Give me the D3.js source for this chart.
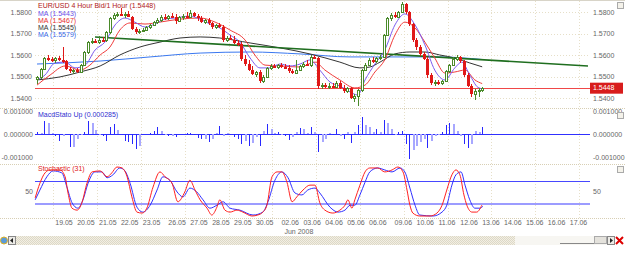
<!DOCTYPE html>
<html><head><meta charset="utf-8">
<script src="https://cdn.jsdelivr.net/npm/d3@7"></script>
<style>body{margin:0;background:#fff;overflow:hidden}text{font-family:"Liberation Sans",Arial,sans-serif}</style>
</head><body><svg id="c" width="625" height="256"></svg>
<script>
// ---------- DATA ----------
// 4-hour bars: [open, high, low, close]
const ohlc = [
[1.5490,1.5502,1.5465,1.5496],[1.5496,1.5540,1.5490,1.5535],[1.5535,1.5590,1.5530,1.5585],[1.5585,1.5598,1.5570,1.5580],
[1.5580,1.5592,1.5568,1.5575],[1.5575,1.5590,1.5565,1.5585],[1.5585,1.5595,1.5572,1.5578],[1.5578,1.5635,1.5565,1.5570],
[1.5570,1.5578,1.5530,1.5535],[1.5535,1.5545,1.5515,1.5525],[1.5525,1.5535,1.5512,1.5530],[1.5530,1.5540,1.5518,1.5522],
[1.5522,1.5560,1.5518,1.5555],[1.5555,1.5620,1.5550,1.5615],[1.5615,1.5665,1.5605,1.5660],[1.5660,1.5680,1.5650,1.5665],
[1.5665,1.5675,1.5655,1.5660],[1.5660,1.5690,1.5652,1.5670],[1.5670,1.5685,1.5660,1.5668],[1.5668,1.5712,1.5662,1.5705],
[1.5705,1.5775,1.5700,1.5770],[1.5770,1.5795,1.5765,1.5785],[1.5785,1.5800,1.5775,1.5790],[1.5790,1.5818,1.5780,1.5785],
[1.5785,1.5800,1.5770,1.5792],[1.5792,1.5805,1.5775,1.5778],[1.5778,1.5782,1.5715,1.5720],[1.5720,1.5730,1.5700,1.5708],
[1.5708,1.5720,1.5698,1.5712],[1.5712,1.5725,1.5705,1.5718],[1.5718,1.5735,1.5710,1.5730],[1.5730,1.5745,1.5722,1.5740],
[1.5740,1.5760,1.5735,1.5755],[1.5755,1.5770,1.5745,1.5765],[1.5765,1.5785,1.5755,1.5778],[1.5778,1.5790,1.5765,1.5772],
[1.5772,1.5785,1.5762,1.5780],[1.5780,1.5795,1.5770,1.5775],[1.5775,1.5790,1.5745,1.5760],[1.5760,1.5780,1.5755,1.5775],
[1.5775,1.5790,1.5765,1.5782],[1.5782,1.5798,1.5772,1.5778],[1.5778,1.5808,1.5772,1.5795],[1.5795,1.5802,1.5775,1.5780],
[1.5780,1.5790,1.5760,1.5770],[1.5770,1.5782,1.5748,1.5755],[1.5755,1.5768,1.5745,1.5762],[1.5762,1.5770,1.5740,1.5748],
[1.5748,1.5755,1.5722,1.5728],[1.5728,1.5745,1.5720,1.5738],[1.5738,1.5750,1.5725,1.5730],[1.5730,1.5740,1.5660,1.5668],
[1.5668,1.5690,1.5660,1.5680],[1.5680,1.5695,1.5668,1.5672],[1.5672,1.5688,1.5650,1.5658],[1.5658,1.5668,1.5640,1.5650],
[1.5650,1.5660,1.5570,1.5580],[1.5580,1.5600,1.5548,1.5560],[1.5560,1.5575,1.5525,1.5530],[1.5530,1.5548,1.5505,1.5512],
[1.5512,1.5525,1.5498,1.5520],[1.5520,1.5528,1.5470,1.5478],[1.5478,1.5505,1.5470,1.5500],[1.5500,1.5545,1.5495,1.5540],
[1.5540,1.5560,1.5530,1.5548],[1.5548,1.5560,1.5538,1.5545],[1.5545,1.5558,1.5535,1.5552],[1.5552,1.5562,1.5540,1.5545],
[1.5545,1.5558,1.5535,1.5540],[1.5540,1.5552,1.5518,1.5525],[1.5525,1.5535,1.5510,1.5518],[1.5518,1.5578,1.5512,1.5530],
[1.5530,1.5555,1.5525,1.5550],[1.5550,1.5568,1.5540,1.5560],[1.5560,1.5575,1.5548,1.5552],[1.5552,1.5598,1.5545,1.5592],
[1.5592,1.5600,1.5580,1.5585],[1.5585,1.5590,1.5440,1.5455],[1.5455,1.5470,1.5440,1.5462],[1.5462,1.5472,1.5445,1.5450],
[1.5450,1.5468,1.5440,1.5458],[1.5458,1.5470,1.5445,1.5450],[1.5450,1.5478,1.5445,1.5470],[1.5470,1.5480,1.5440,1.5448],
[1.5448,1.5460,1.5425,1.5432],[1.5432,1.5450,1.5425,1.5445],[1.5445,1.5452,1.5395,1.5400],[1.5400,1.5420,1.5380,1.5410],
[1.5410,1.5440,1.5365,1.5435],[1.5435,1.5535,1.5430,1.5530],[1.5530,1.5562,1.5525,1.5555],[1.5555,1.5585,1.5548,1.5578],
[1.5578,1.5590,1.5565,1.5572],[1.5572,1.5592,1.5565,1.5588],[1.5588,1.5598,1.5575,1.5590],[1.5590,1.5700,1.5585,1.5695],
[1.5695,1.5775,1.5690,1.5770],[1.5770,1.5795,1.5760,1.5788],[1.5788,1.5800,1.5770,1.5775],[1.5775,1.5805,1.5770,1.5800],
[1.5800,1.5848,1.5795,1.5835],[1.5835,1.5842,1.5790,1.5798],[1.5798,1.5805,1.5735,1.5742],[1.5742,1.5750,1.5660,1.5668],
[1.5668,1.5680,1.5625,1.5635],[1.5635,1.5645,1.5595,1.5605],[1.5605,1.5615,1.5575,1.5582],[1.5582,1.5590,1.5495,1.5505],
[1.5505,1.5515,1.5460,1.5470],[1.5470,1.5485,1.5455,1.5475],[1.5475,1.5485,1.5462,1.5470],[1.5470,1.5485,1.5460,1.5480],
[1.5480,1.5530,1.5475,1.5525],[1.5525,1.5560,1.5515,1.5555],[1.5555,1.5590,1.5548,1.5582],[1.5582,1.5598,1.5572,1.5590],
[1.5590,1.5595,1.5565,1.5572],[1.5572,1.5578,1.5500,1.5508],[1.5508,1.5515,1.5450,1.5458],[1.5458,1.5465,1.5405,1.5420],
[1.5420,1.5440,1.5392,1.5432],[1.5432,1.5445,1.5405,1.5438],[1.5438,1.5452,1.5430,1.5448]
];
// moving averages: [bar, price]
const maPurple = [[0,1.5484],[2.2,1.5507],[4.9,1.5563],[7.7,1.5567],[10.4,1.5540],[13.2,1.5553],[15.9,1.5623],[18.6,1.5660],[21.4,1.5740],[24.1,1.5772],[26.8,1.5753],[29.6,1.5730],[32.3,1.5744],[35.1,1.5767],[37.8,1.5772],[41.9,1.5781],[44.7,1.5767],[47.4,1.5744],[50.1,1.5726],[52.9,1.5693],[55.6,1.5660],[58.4,1.5586],[61.1,1.5540],[63.8,1.5540],[66.6,1.5558],[69.3,1.5549],[72.1,1.5558],[74.8,1.5577],[77.5,1.5530],[80.3,1.5474],[83,1.5456],[85.8,1.5428],[87.9,1.5414],[89.9,1.5484],[92.6,1.5558],[95.3,1.5623],[98.1,1.5740],[100.8,1.5791],[103.6,1.5740],[106.3,1.5647],[109,1.5530],[111.8,1.5484],[114.5,1.5540],[116.4,1.5567],[118.6,1.5507],[120.8,1.5450],[122,1.5443]];
const maRed = [[0,1.5460],[3.6,1.5507],[7.7,1.5549],[11.8,1.5530],[14.5,1.5553],[17.3,1.5600],[20,1.5637],[22.7,1.5716],[25.5,1.5749],[29.6,1.5744],[33.7,1.5753],[39.2,1.5767],[44.7,1.5772],[48.8,1.5753],[52.9,1.5716],[57,1.5670],[59.7,1.5600],[62.5,1.5553],[66.6,1.5549],[72.1,1.5544],[76.2,1.5567],[78.9,1.5530],[83,1.5484],[87.1,1.5447],[89.9,1.5460],[92.6,1.5521],[95.3,1.5577],[98.1,1.5693],[100.8,1.5753],[103.6,1.5726],[106.3,1.5660],[109,1.5586],[111.8,1.5516],[114.5,1.5521],[117.3,1.5530],[120,1.5484],[122,1.5467]];
const maBlack = [[0,1.5484],[6.3,1.5498],[11.8,1.5521],[17.3,1.5549],[22.7,1.5600],[28.2,1.5637],[33.7,1.5660],[39.2,1.5679],[44.7,1.5684],[50.1,1.5679],[58.4,1.5656],[66.6,1.5633],[74.8,1.5605],[83,1.5567],[88.5,1.5540],[91.2,1.5544],[94,1.5567],[98.1,1.5605],[102.2,1.5614],[106.3,1.5614],[110.4,1.5600],[114.5,1.5586],[118.6,1.5563],[122,1.5545]];
const maBlue = [[0,1.5558],[17.3,1.5572],[31,1.5591],[44.7,1.5609],[58.4,1.5614],[72.1,1.5605],[85.8,1.5591],[99.5,1.5591],[110.4,1.5591],[122,1.5579]];
const trendLine = [[15.9,1.5684],[151,1.5549]];
const lastPrice = 1.5448;
const maValues = ["1.5443","1.5467","1.5545","1.5579"];
// MACD histogram (one value per bar)
const macd = [0.00010,0.00003,0.00055,0.00050,0.00005,-0.00007,-0.00030,-0.00010,0,-0.00057,-0.00055,-0.00020,-0.00005,0.00008,0.00057,0.00050,0.00017,-0.00005,-0.00010,-0.00030,
0.00031,0.00043,0.00017,0.00002,-0.00030,-0.00035,-0.00045,-0.00064,-0.00050,0.00002,0,0.00005,0.00011,0.00029,0.00011,-0.00005,-0.00008,-0.00007,-0.00012,0,
0.00002,0.00003,0.00004,-0.00005,-0.00018,-0.00022,-0.00020,-0.00036,-0.00020,0.00003,0.00036,-0.00010,0.00005,-0.00005,-0.00015,-0.00020,-0.00045,-0.00030,-0.00050,-0.00040,
-0.00015,-0.00050,0.00015,0.00045,0.00020,0.00005,0.00010,-0.00005,-0.00010,-0.00025,-0.00015,0.00010,0.00025,0.00020,0.00005,0.00030,0.00010,-0.00080,-0.00035,-0.00020,
0.00005,-0.00005,0.00020,-0.00010,-0.00020,0.00008,-0.00040,0.00010,0.00040,0.00075,0.00040,0.00030,0.00010,0.00020,0.00010,0.00060,0.00050,0.00020,-0.00005,0.00010,
0.00015,-0.00045,-0.00110,-0.00070,-0.00050,-0.00035,-0.00020,-0.00060,-0.00030,-0.00010,-0.00005,0.00010,0.00040,0.00050,0.00045,0.00015,-0.00010,-0.00045,-0.00060,-0.00045,
0.00015,0.00010,0.000285];
// Stochastic (31): [bar, value]
const stochMain = [[-0.5,37],[0.8,67],[2.2,88],[3.6,94],[6.3,94],[7.7,80],[8.5,47],[9.6,16],[11,12],[12.3,27],[13.7,67],[15.1,90],[17.3,92],[19.2,80],[20.5,88],[21.9,100],[23.3,98],[24.7,80],[26,39],[27.4,8],[28.8,6],[30.1,16],[31.8,59],[33.7,90],[35.1,80],[37,67],[38.6,29],[40.5,49],[41.9,73],[43.3,53],[44.7,33],[46.6,16],[47.9,2],[49.3,18],[50.1,33],[51.5,12],[52.9,8],[54.8,12],[56.4,8],[58.9,0],[60.5,2],[61.9,8],[63,22],[64.4,80],[65.8,90],[67.1,90],[68.5,69],[69.9,29],[71.2,39],[72.9,53],[74.8,63],[76.2,63],[77.5,27],[78.9,12],[81.1,6],[83,12],[84.4,22],[85.2,33],[86.3,16],[87.1,33],[88.5,63],[89.9,90],[91.2,98],[93.4,98],[95.3,90],[97.3,94],[98.9,100],[100.3,90],[101.4,53],[102.2,22],[103,6],[104.9,0],[107.7,0],[109.6,6],[111,22],[112.3,53],[113.7,84],[114.8,94],[115.9,84],[117,43],[117.8,22],[119.2,8],[120.5,8],[121.9,22]];
const stochSignal = [[-0.5,33],[0.8,53],[2.7,80],[4.4,92],[6.8,88],[8.2,59],[9.6,27],[11.2,16],[12.6,33],[14,67],[15.9,90],[17.8,90],[19.2,78],[20.8,84],[22.7,98],[24.1,92],[25.5,67],[27.4,18],[29,8],[31,22],[32.9,53],[34.5,80],[36.4,73],[38.4,49],[40,39],[41.9,57],[43.8,49],[45.5,33],[47.4,16],[49.3,22],[51,29],[52.9,16],[55.6,12],[59.2,2],[61.9,8],[63.3,29],[65.2,73],[67.1,90],[68.8,78],[70.7,47],[72.6,43],[74.2,53],[76.2,57],[77.5,47],[80.3,18],[82.5,8],[84.4,12],[85.8,22],[87.1,22],[88.5,43],[89.9,69],[91.2,90],[93.4,98],[95.3,94],[97.3,90],[99.5,98],[100.8,90],[102.2,57],[103.6,22],[104.9,2],[108.5,0],[111,8],[112.3,22],[113.7,63],[114.8,84],[116.2,90],[117.3,63],[118.6,33],[120,16],[121.4,16],[122.2,20]];
const stochLevels = [72, 25];
// axis labels
const priceTicks = [1.58,1.57,1.56,1.55,1.54];
const macdTicks = [0.001,0,-0.001];
const dayLabels = ["19.05","20.05","21.05","22.05","23.05","26.05","27.05","28.05","29.05","30.05","02.06","03.06","04.06","05.06","06.06","09.06","10.06","11.06","12.06","13.06","14.06","15.06","16.06","17.06"];
const dayBars   = [5,11,17,23,29,36,42,48,54,60,67,73,79,85,91,98,104,110,116,122,128,134,140,146];
const monthLabel = "Jun 2008";

// ---------- DRAW ----------
const svg = d3.select("#c");
const X0 = 35, X1 = 590;
const x = d3.scaleLinear().domain([0,151]).range([37,588]);
const yP = d3.scaleLinear().domain([1.54,1.58]).range([98,12]);
const yM = d3.scaleLinear().domain([-0.001,0.001]).range([157,111]);
const yS = d3.scaleLinear().domain([0,100]).range([216,167]);
const grid = "#e6dfc8";
const lblCol = "#666";
const fs = 7;

svg.append("rect").attr("width",625).attr("height",256).attr("fill","#fff");
// frame top
svg.append("line").attr("x1",0).attr("x2",625).attr("y1",0.5).attr("y2",0.5).attr("stroke","#d8d4c8");

// vertical grid
const vg = d3.range(4.5,151,12);
svg.append("g").selectAll("line").data(vg).join("line")
  .attr("x1",d=>Math.round(x(d))+0.5).attr("x2",d=>Math.round(x(d))+0.5)
  .attr("y1",1).attr("y2",218).attr("stroke",grid).attr("stroke-dasharray","1,2");
// horizontal grid
svg.append("g").selectAll("line").data(priceTicks).join("line")
  .attr("x1",X0).attr("x2",X1).attr("y1",d=>Math.round(yP(d))+0.5).attr("y2",d=>Math.round(yP(d))+0.5)
  .attr("stroke",grid).attr("stroke-dasharray","1,2");
// panel separators
[108,164,218].forEach(v=>svg.append("line").attr("x1",0).attr("x2",625).attr("y1",v+0.5).attr("y2",v+0.5)
  .attr("stroke","#d8cfb4").attr("stroke-dasharray","1,1"));

// price axis labels (both sides)
const pl = svg.append("g").attr("font-size",fs).attr("fill",lblCol);
priceTicks.forEach(p=>{
  pl.append("text").attr("x",32).attr("y",yP(p)+2.5).attr("text-anchor","end").text(p.toFixed(4));
  pl.append("text").attr("x",593).attr("y",yP(p)+2.5).text(p.toFixed(4));
});
macdTicks.forEach(m=>{
  pl.append("text").attr("x",33).attr("y",yM(m)+2.5).attr("text-anchor","end").text(m.toFixed(6));
  pl.append("text").attr("x",593).attr("y",yM(m)+2.5).text(m.toFixed(6));
});
pl.append("text").attr("x",33).attr("y",yS(50)+2.5).attr("text-anchor","end").text("50");
pl.append("text").attr("x",593).attr("y",yS(50)+2.5).text("50");
// date labels
dayLabels.forEach((d,i)=>pl.append("text").attr("x",x(dayBars[i])).attr("y",225).text(d));
pl.append("text").attr("x",x(dayBars[10])+3).attr("y",234).text(monthLabel);

// horizontal last-price line
svg.append("line").attr("x1",X0).attr("x2",X1).attr("y1",Math.round(yP(lastPrice))+0.5).attr("y2",Math.round(yP(lastPrice))+0.5)
  .attr("stroke","#f04848");

// MAs
const line = d3.line().x(d=>x(d[0])).y(d=>yP(d[1])).curve(d3.curveMonotoneX);
svg.append("path").datum(maBlue).attr("d",line).attr("fill","none").attr("stroke","#3a78f0").attr("stroke-width",1);
svg.append("path").datum(maBlack).attr("d",line).attr("fill","none").attr("stroke","#333").attr("stroke-width",1);
svg.append("path").datum(trendLine).attr("d",d3.line().x(d=>x(d[0])).y(d=>yP(d[1]))).attr("fill","none").attr("stroke","#1f6e1f").attr("stroke-width",1.6);
svg.append("path").datum(maRed).attr("d",line).attr("fill","none").attr("stroke","#f03c3c").attr("stroke-width",1);
svg.append("path").datum(maPurple).attr("d",line).attr("fill","none").attr("stroke","#7c5cf0").attr("stroke-width",1);

// candles
const cg = svg.append("g").attr("shape-rendering","crispEdges");
ohlc.forEach((d,i)=>{
  const cx = Math.round(x(i));
  const up = d[3] >= d[0];
  const col = up ? "#4a8a2a" : "#e01818";
  cg.append("line").attr("x1",cx+0.5).attr("x2",cx+0.5).attr("y1",yP(d[1])).attr("y2",yP(d[2])).attr("stroke",col);
  const top = Math.round(yP(Math.max(d[0],d[3]))), bot = Math.round(yP(Math.min(d[0],d[3])));
  if (up) {
    cg.append("rect").attr("x",cx-1+0.5).attr("y",top+0.5).attr("width",2).attr("height",Math.max(1,bot-top))
      .attr("fill","#fff").attr("stroke",col);
  } else {
    cg.append("rect").attr("x",cx-1).attr("y",top).attr("width",3).attr("height",Math.max(2,bot-top)).attr("fill",col);
  }
});

// MACD
svg.append("line").attr("x1",X0).attr("x2",X1).attr("y1",Math.round(yM(0))+0.5).attr("y2",Math.round(yM(0))+0.5).attr("stroke","#3030ff");
svg.append("g").attr("shape-rendering","crispEdges").selectAll("line").data(macd).join("line")
  .attr("x1",(d,i)=>Math.round(x(i))+0.5).attr("x2",(d,i)=>Math.round(x(i))+0.5)
  .attr("y1",yM(0)).attr("y2",d=>yM(d))
  .attr("stroke",(d,i)=> (i>0 && Math.abs(d)<Math.abs(macd[i-1])) ? "#a8a8ff" : "#2828ff")
  .attr("stroke-width",(d,i)=> (i>0 && Math.abs(d)<Math.abs(macd[i-1])) ? 2 : 1);

// Stochastic
svg.append("line").attr("x1",X0).attr("x2",X1).attr("y1",Math.round(yS(stochLevels[0]))+0.5).attr("y2",Math.round(yS(stochLevels[0]))+0.5).attr("stroke","#4848ff");
svg.append("line").attr("x1",X0).attr("x2",X1).attr("y1",Math.round(yS(stochLevels[1]))).attr("y2",Math.round(yS(stochLevels[1]))).attr("stroke","#9c9cff").attr("stroke-width",2);
const sl = d3.line().x(d=>x(d[0])).y(d=>yS(d[1])).curve(d3.curveMonotoneX);
svg.append("path").datum(stochSignal).attr("d",sl).attr("fill","none").attr("stroke","#3030ff");
svg.append("path").datum(stochMain).attr("d",sl).attr("fill","none").attr("stroke","#ff2020");

// legends
const lg = svg.append("g").attr("font-size",fs);
lg.append("text").attr("x",38).attr("y",7.5).attr("fill","#b01818").text(`EUR/USD 4 Hour Bid/1 Hour (${lastPrice.toFixed(4)})`);
const maCols = ["#6a50e8","#e83030","#333","#3a6ae8"];
maValues.forEach((v,i)=>lg.append("text").attr("x",38).attr("y",15.5+i*7.3).attr("fill",maCols[i]).text(`MA (${v})`));
lg.append("text").attr("x",38).attr("y",117).attr("fill","#3030d0").text(`MacdStato Up (${macd[macd.length-1].toFixed(6)})`);
lg.append("text").attr("x",38).attr("y",171).attr("fill","#e02020").text("Stochastic (31)");

// last price box
svg.append("rect").attr("x",590).attr("y",yP(lastPrice)-5).attr("width",33).attr("height",11).attr("fill","#d81c1c");
svg.append("text").attr("x",593).attr("y",yP(lastPrice)+2.5).attr("font-size",fs).attr("fill","#fff").text(lastPrice.toFixed(4));

// small panel buttons
[2,112,166].forEach(v=>svg.append("rect").attr("x",617.5).attr("y",v+0.5).attr("width",6).attr("height",6).attr("fill","#f4f2ea").attr("stroke","#aaa"));

// scrollbar
const pat = svg.append("defs").append("pattern").attr("id","hatch").attr("width",2).attr("height",2).attr("patternUnits","userSpaceOnUse");
pat.append("rect").attr("width",2).attr("height",2).attr("fill","#f2efe4");
pat.append("rect").attr("width",1).attr("height",1).attr("fill","#ddd8c6");
pat.append("rect").attr("x",1).attr("y",1).attr("width",1).attr("height",1).attr("fill","#ddd8c6");
svg.append("rect").attr("x",15).attr("y",236).attr("width",500).attr("height",9).attr("fill","url(#hatch)");
svg.append("rect").attr("x",515).attr("y",236).attr("width",93).attr("height",9).attr("fill","#f7f6f2");
svg.append("line").attr("x1",560).attr("x2",598).attr("y1",243.5).attr("y2",243.5).attr("stroke","#888");
svg.append("rect").attr("x",594.5).attr("y",236.5).attr("width",12).attr("height",7).attr("fill","#e4e2dc").attr("stroke","#aaa");
svg.append("rect").attr("x",607.5).attr("y",236.5).attr("width",7).attr("height",8).attr("fill","#ecebe6").attr("stroke","#888");
svg.append("path").attr("d","M610,238 L613,240.5 L610,243 Z").attr("fill","#222");
svg.append("path").attr("d","M616,237 L623,244 M623,237 L616,244").attr("stroke","#d00").attr("stroke-width",2);
svg.append("rect").attr("x",8.5).attr("y",236.5).attr("width",7).attr("height",8).attr("fill","#ecebe6").attr("stroke","#888");
svg.append("path").attr("d","M13,238 L10,240.5 L13,243 Z").attr("fill","#222");
svg.append("circle").attr("cx",4).attr("cy",240.5).attr("r",3.5).attr("fill","#5b9bd8").attr("stroke","#e0b020");
</script></body></html>
